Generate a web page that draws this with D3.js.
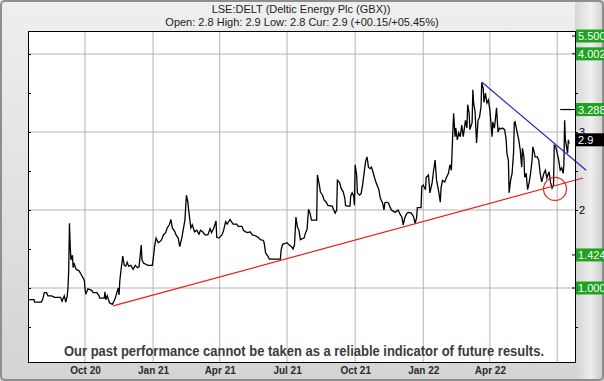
<!DOCTYPE html>
<html>
<head>
<meta charset="utf-8">
<script src="https://cdn.jsdelivr.net/npm/d3@7"></script>
<style>
  body { margin: 0; background: #fff; }
  svg { display: block; }
</style>
</head>
<body>
<div id="chart"></div>
<script>
const width = 604;
const height = 381;
const marginTop = 31;
const marginRight = 29;
const marginBottom = 19;
const marginLeft = 28;

const titleText = "LSE:DELT (Deltic Energy Plc (GBX))";
const subtitleText = "Open: 2.8 High: 2.9 Low: 2.8 Cur: 2.9 (+00.15/+05.45%)";
const disclaimerText = "Our past performance cannot be taken as a reliable indicator of future results.";

// daily price
const priceData = [
  ["2020-07-16",0.85],["2020-07-24",0.85],["2020-07-25",0.82],["2020-08-03",0.82],["2020-08-05",0.86],["2020-08-07",0.94],
  ["2020-08-10",0.94],["2020-08-12",0.90],["2020-08-17",0.90],["2020-08-21",0.88],["2020-08-29",0.88],["2020-08-31",0.83],
  ["2020-09-03",0.90],["2020-09-05",0.82],["2020-09-07",0.90],["2020-09-08",1.00],["2020-09-09",1.23],["2020-09-10",1.83],
  ["2020-09-11",1.55],["2020-09-12",1.36],["2020-09-14",1.42],["2020-09-15",1.26],["2020-09-16",1.32],["2020-09-19",1.24],
  ["2020-09-23",1.22],["2020-09-26",1.17],["2020-09-30",1.10],["2020-10-01",1.00],["2020-10-02",0.92],["2020-10-05",0.99],
  ["2020-10-10",0.97],["2020-10-12",0.94],["2020-10-17",0.94],["2020-10-20",0.90],["2020-10-21",0.87],["2020-10-27",0.87],
  ["2020-10-28",0.95],["2020-10-29",0.85],["2020-10-31",0.90],["2020-11-03",0.81],["2020-11-07",0.79],["2020-11-09",0.83],
  ["2020-11-11",0.87],["2020-11-13",0.94],["2020-11-15",1.00],["2020-11-16",0.91],["2020-11-17",1.09],["2020-11-19",1.26],
  ["2020-11-20",1.32],["2020-11-21",1.41],["2020-11-23",1.29],["2020-11-25",1.28],["2020-11-27",1.33],["2020-11-29",1.28],
  ["2020-12-02",1.29],["2020-12-05",1.24],["2020-12-08",1.29],["2020-12-11",1.26],["2020-12-13",1.27],["2020-12-16",1.55],
  ["2020-12-17",1.36],["2020-12-19",1.32],["2020-12-25",1.29],["2020-12-31",1.29],
  ["2021-01-01",1.36],["2021-01-03",1.53],["2021-01-05",1.64],["2021-01-08",1.58],["2021-01-12",1.61],["2021-01-15",1.68],
  ["2021-01-18",1.71],["2021-01-20",1.77],["2021-01-23",1.81],["2021-01-25",1.88],["2021-01-27",1.77],["2021-01-30",1.73],
  ["2021-02-01",1.68],["2021-02-04",1.64],["2021-02-06",1.53],["2021-02-09",1.65],["2021-02-10",1.71],["2021-02-13",1.87],
  ["2021-02-15",2.19],["2021-02-17",2.10],["2021-02-18",2.00],["2021-02-21",1.77],["2021-02-23",1.81],["2021-02-26",1.72],
  ["2021-03-01",1.74],["2021-03-04",1.69],["2021-03-06",1.74],["2021-03-09",1.72],["2021-03-12",1.68],["2021-03-16",1.68],
  ["2021-03-19",1.76],["2021-03-21",1.71],["2021-03-24",1.77],["2021-03-27",1.86],["2021-03-28",1.65],["2021-03-31",1.64],
  ["2021-04-04",1.68],["2021-04-06",1.73],["2021-04-09",1.85],["2021-04-11",1.82],["2021-04-15",1.88],["2021-04-19",1.82],
  ["2021-04-24",1.82],["2021-04-26",1.79],
  ["2021-05-01",1.79],["2021-05-03",1.74],["2021-05-06",1.72],["2021-05-09",1.71],["2021-05-12",1.72],["2021-05-15",1.68],
  ["2021-05-19",1.67],["2021-05-23",1.65],["2021-05-26",1.62],["2021-05-30",1.61],["2021-05-31",1.58],["2021-06-02",1.45],
  ["2021-06-05",1.41],["2021-06-07",1.37],["2021-06-22",1.37],["2021-06-23",1.49],["2021-06-25",1.56],["2021-07-01",1.58],
  ["2021-07-04",1.55],["2021-07-07",1.53],["2021-07-09",1.50],["2021-07-11",1.55],["2021-07-13",1.91],["2021-07-15",1.78],
  ["2021-07-17",1.74],["2021-07-19",1.62],["2021-07-21",1.63],["2021-07-24",1.64],["2021-07-26",1.71],["2021-07-28",1.75],
  ["2021-07-30",2.01],["2021-08-01",1.96],["2021-08-03",1.87],["2021-08-10",1.87],["2021-08-11",2.45],["2021-08-14",2.30],
  ["2021-08-15",2.23],["2021-08-18",2.19],["2021-08-20",2.13],["2021-08-23",2.10],["2021-08-25",2.06],["2021-08-31",2.05],
  ["2021-09-02",2.00],["2021-09-04",1.96],["2021-09-06",2.00],["2021-09-07",2.38],["2021-09-10",2.35],["2021-09-12",2.28],
  ["2021-09-15",2.23],["2021-09-17",2.15],
  ["2021-09-18",2.06],["2021-09-20",2.05],["2021-09-24",2.05],["2021-09-25",2.18],["2021-09-27",2.22],["2021-09-29",2.18],
  ["2021-09-30",2.06],["2021-10-01",2.58],["2021-10-03",2.45],["2021-10-04",2.22],["2021-10-07",2.19],["2021-10-09",2.21],
  ["2021-10-11",2.32],["2021-10-13",2.47],["2021-10-15",2.62],["2021-10-17",2.68],["2021-10-19",2.55],["2021-10-21",2.53],
  ["2021-10-23",2.55],["2021-10-25",2.49],["2021-10-27",2.42],["2021-10-29",2.36],["2021-11-02",2.26],["2021-11-04",2.15],
  ["2021-11-07",2.09],["2021-11-09",2.00],["2021-11-10",2.09],["2021-11-12",2.10],["2021-11-15",2.09],["2021-11-17",2.04],
  ["2021-11-19",2.00],["2021-11-24",1.97],["2021-11-28",2.00],["2021-12-01",1.94],["2021-12-03",1.91],["2021-12-05",1.81],
  ["2021-12-07",1.90],["2021-12-10",1.96],["2021-12-12",1.97],["2021-12-16",1.96],["2021-12-19",1.91],["2021-12-21",1.83],
  ["2021-12-23",1.90],["2021-12-24",2.03],["2021-12-29",2.03],["2021-12-30",2.30],["2022-01-01",2.32],["2022-01-04",2.26],
  ["2022-01-05",2.42],["2022-01-08",2.45],["2022-01-10",2.22],["2022-01-13",2.35],["2022-01-15",2.51],["2022-01-17",2.64],
  ["2022-01-19",2.38],["2022-01-22",2.23],
  ["2022-01-24",2.10],["2022-01-25",2.28],["2022-01-27",2.38],["2022-01-30",2.36],["2022-02-01",2.41],["2022-02-04",2.47],
  ["2022-02-06",2.58],["2022-02-08",2.51],["2022-02-09",2.77],["2022-02-11",3.24],["2022-02-13",2.94],["2022-02-14",3.05],
  ["2022-02-16",2.90],["2022-02-18",2.99],["2022-02-20",2.94],["2022-02-22",3.09],["2022-02-24",2.94],["2022-02-27",3.15],
  ["2022-03-01",3.05],["2022-03-02",3.35],["2022-03-04",3.24],["2022-03-05",3.03],["2022-03-08",3.12],["2022-03-09",3.54],
  ["2022-03-10",3.38],["2022-03-12",3.26],["2022-03-14",2.86],["2022-03-16",3.15],["2022-03-18",3.19],["2022-03-20",3.32],
  ["2022-03-21",3.63],["2022-03-23",3.56],["2022-03-24",3.38],["2022-03-26",3.50],["2022-03-28",3.37],["2022-03-30",3.41],
  ["2022-04-01",3.28],["2022-04-04",2.94],["2022-04-05",3.13],["2022-04-07",3.05],["2022-04-08",3.12],["2022-04-10",3.31],
  ["2022-04-12",3.00],["2022-04-14",3.05],["2022-04-16",3.04],["2022-04-18",3.05],["2022-04-21",3.03],["2022-04-23",2.90],
  ["2022-04-24",2.73],["2022-04-26",2.64],["2022-04-27",2.22],["2022-04-29",2.38],["2022-05-01",2.47],["2022-05-03",2.73],
  ["2022-05-04",3.12],["2022-05-05",3.13],["2022-05-08",2.99],["2022-05-10",2.90],["2022-05-12",2.77],["2022-05-14",2.55],
  ["2022-05-15",2.79],["2022-05-17",2.68],["2022-05-18",2.42],["2022-05-20",2.47],["2022-05-22",2.26],["2022-05-24",2.35],
  ["2022-05-26",2.47],["2022-05-28",2.64],["2022-05-29",2.81],["2022-05-31",2.74],["2022-06-01",2.68],["2022-06-04",2.68],
  ["2022-06-06",2.64],["2022-06-08",2.47],["2022-06-10",2.36],["2022-06-13",2.47],["2022-06-15",2.51],["2022-06-17",2.41],
  ["2022-06-20",2.49],["2022-06-22",2.35],["2022-06-24",2.28],["2022-06-26",2.32],["2022-06-27",2.83],["2022-06-29",2.81],
  ["2022-07-01",2.73],["2022-07-03",2.64],["2022-07-05",2.51],["2022-07-07",2.54],["2022-07-09",2.47],["2022-07-10",2.58],
  ["2022-07-11",3.15],["2022-07-12",2.90],["2022-07-15",2.73],["2022-07-16",2.90],["2022-07-17",2.85]
];

// trend lines and markers
const redTrend = [["2020-11-08", 0.77], ["2022-08-05", 2.41]];
const blueTrend = [["2022-03-21", 3.64], ["2022-08-09", 2.51]];
const circleMark = ["2022-06-28", 2.27];
const markerLine = [["2022-07-05", 3.288], ["2022-07-21", 3.288]];

// axis ticks
const xDomain = ["2020-07-16", "2022-07-25"];
const xGridDates = ["2020-10-01", "2021-01-01", "2021-04-01", "2021-07-01", "2021-10-01", "2022-01-01", "2022-04-01", "2022-07-01"];
const xLabelDates = ["2020-10-01", "2021-01-01", "2021-04-01", "2021-07-01", "2021-10-01", "2022-01-01", "2022-04-01"];
const yGridValues = [1, 2, 3, 4];
const yTickValues = [0.5, 1, 1.5, 2, 2.5, 3, 3.5, 4];
// 1 and 4 sit behind the green level labels, so only these show
const yLabelValues = [2, 3];

// price level labels on the right
const levelValues = [5.5, 4.002, 3.288, 1.424, 1.0];
const levelLabels = ["5.500", "4.002", "3.288", "1.424", "1.000"];
const currentPrice = 2.9;
const currentLabel = "2.9";

const parse = d3.utcParse("%Y-%m-%d");

const x = d3.scaleUtc(xDomain.map(parse), [marginLeft, width - marginRight]);
const y = d3.scaleLinear([1, 3], [288, 132]);

const plotTop = marginTop;
const plotBottom = height - marginBottom;
const plotRight = width - marginRight;

const svg = d3.select("#chart")
  .append("svg")
  .attr("width", width)
  .attr("height", height)
  .attr("viewBox", [0, 0, width, height])
  .style("font-family", "'Liberation Sans', Arial, sans-serif");

const defs = svg.append("defs");
const bgGrad = defs.append("linearGradient").attr("id", "bgGrad").attr("x1", 0).attr("y1", 0).attr("x2", 0).attr("y2", 1);
bgGrad.append("stop").attr("offset", "0%").attr("stop-color", "#efefef");
bgGrad.append("stop").attr("offset", "100%").attr("stop-color", "#d4d4d4");

const sideGrad = defs.append("linearGradient").attr("id", "sideGrad").attr("x1", 0).attr("y1", 0).attr("x2", 1).attr("y2", 0);
sideGrad.append("stop").attr("offset", "0%").attr("stop-color", "#d2d2d2");
sideGrad.append("stop").attr("offset", "55%").attr("stop-color", "#f2f2f2");
sideGrad.append("stop").attr("offset", "100%").attr("stop-color", "#c4c4c4");

// panel background
svg.append("rect")
  .attr("width", width).attr("height", height)
  .attr("fill", "url(#bgGrad)");

svg.append("rect")
  .attr("x", plotRight).attr("y", 0)
  .attr("width", marginRight).attr("height", height)
  .attr("fill", "url(#sideGrad)")
  .attr("opacity", 0.8);

svg.append("rect")
  .attr("x", 1).attr("y", 1)
  .attr("width", width - 2).attr("height", height - 2)
  .attr("rx", 4)
  .attr("fill", "none")
  .attr("stroke", "#8e8e8e")
  .attr("stroke-width", 2);

// plot area
svg.append("rect")
  .attr("x", marginLeft).attr("y", plotTop)
  .attr("width", plotRight - marginLeft).attr("height", plotBottom - plotTop)
  .attr("fill", "#fff");

// grid
svg.append("g")
  .selectAll("line")
  .data(xGridDates.map(parse))
  .join("line")
  .attr("x1", d => x(d)).attr("x2", d => x(d))
  .attr("y1", plotTop).attr("y2", plotBottom)
  .attr("stroke", "#b4b4b4");

svg.append("g")
  .selectAll("line")
  .data(yGridValues)
  .join("line")
  .attr("x1", marginLeft).attr("x2", plotRight)
  .attr("y1", d => y(d)).attr("y2", d => y(d))
  .attr("stroke", "#b4b4b4");

// ticks on left (inward) and right (outward)
svg.append("g")
  .attr("transform", `translate(${marginLeft},0)`)
  .call(d3.axisRight(y).tickValues(yTickValues).tickSize(3).tickFormat(""))
  .call(g => g.select(".domain").remove())
  .call(g => g.selectAll("line").attr("stroke", "#000"));

svg.append("g")
  .attr("transform", `translate(${plotRight},0)`)
  .call(d3.axisRight(y).tickValues(yTickValues).tickSize(3).tickFormat(d => yLabelValues.includes(d) ? d : ""))
  .call(g => g.select(".domain").remove())
  .call(g => g.selectAll("line").attr("stroke", "#000"))
  .call(g => g.selectAll("text")
    .attr("x", 4)
    .attr("fill", "#000")
    .style("font-size", "11px")
    .style("font-family", "'Liberation Sans', Arial, sans-serif"));

// x labels
svg.append("g")
  .attr("transform", `translate(0,${plotBottom})`)
  .call(d3.axisBottom(x).tickValues(xLabelDates.map(parse)).tickSize(0).tickFormat(d3.utcFormat("%b %y")))
  .call(g => g.select(".domain").remove())
  .call(g => g.selectAll("text")
    .attr("dy", "0.71em")
    .attr("y", 5)
    .attr("fill", "#2a2a2a")
    .style("font-size", "10px")
    .style("font-weight", "bold")
    .style("font-family", "'Liberation Sans', Arial, sans-serif"));

// price line
const line = d3.line()
  .x(d => x(parse(d[0])))
  .y(d => y(d[1]));

svg.append("path")
  .datum(priceData)
  .attr("fill", "none")
  .attr("stroke", "#000")
  .attr("stroke-width", 1.3)
  .attr("stroke-linejoin", "miter")
  .attr("d", line);

svg.append("path")
  .datum(markerLine)
  .attr("fill", "none")
  .attr("stroke", "#000")
  .attr("stroke-width", 1.2)
  .attr("d", line);

// trend lines
svg.append("path")
  .datum(redTrend)
  .attr("fill", "none")
  .attr("stroke", "#e8201c")
  .attr("stroke-width", 1.2)
  .attr("d", line);

svg.append("path")
  .datum(blueTrend)
  .attr("fill", "none")
  .attr("stroke", "#2424c8")
  .attr("stroke-width", 1.2)
  .attr("d", line);

svg.append("circle")
  .attr("cx", x(parse(circleMark[0])))
  .attr("cy", y(circleMark[1]))
  .attr("r", 11.5)
  .attr("fill", "none")
  .attr("stroke", "#e8201c")
  .attr("stroke-width", 1.2);

// frame
svg.append("rect")
  .attr("x", marginLeft + 0.5).attr("y", plotTop + 0.5)
  .attr("width", plotRight - marginLeft).attr("height", plotBottom - plotTop)
  .attr("fill", "none")
  .attr("stroke", "#000");

// level labels (clamped to the plot)
const levels = levelValues.map((v, i) => ({
  value: v,
  label: levelLabels[i],
  yy: Math.max(plotTop + 5, y(v))
}));

const levelG = svg.append("g")
  .selectAll("g")
  .data(levels)
  .join("g")
  .attr("transform", d => `translate(${plotRight + 1},${d.yy})`);

levelG.append("rect")
  .attr("x", 0).attr("y", -6.5)
  .attr("width", 30).attr("height", 13)
  .attr("fill", "#1fa21f");

levelG.append("text")
  .attr("x", 2).attr("y", 4)
  .attr("fill", "#fff")
  .style("font-size", "11px")
  .text(d => d.label);

levelG.append("line")
  .attr("x1", -4).attr("x2", 0)
  .attr("stroke", "#000");

const cur = svg.append("g")
  .attr("transform", `translate(${plotRight + 1},${y(currentPrice)})`);
cur.append("rect")
  .attr("x", 0).attr("y", -6.5)
  .attr("width", 30).attr("height", 13)
  .attr("fill", "#000");
cur.append("text")
  .attr("x", 2).attr("y", 4)
  .attr("fill", "#fff")
  .style("font-size", "11px")
  .text(currentLabel);

// titles
svg.append("text")
  .attr("x", 301).attr("y", 12.5)
  .attr("text-anchor", "middle")
  .attr("fill", "#222")
  .style("font-size", "11px")
  .text(titleText);

svg.append("text")
  .attr("x", 302).attr("y", 26)
  .attr("text-anchor", "middle")
  .attr("fill", "#222")
  .style("font-size", "11px")
  .text(subtitleText);

svg.append("text")
  .attr("x", 64).attr("y", 355.5)
  .attr("fill", "#3c3c3c")
  .attr("textLength", 480)
  .attr("lengthAdjust", "spacingAndGlyphs")
  .style("font-size", "14px")
  .style("font-weight", "bold")
  .style("font-family", "'Liberation Sans Narrow', 'Arial Narrow', 'Liberation Sans', Arial, sans-serif")
  .text(disclaimerText);
</script>
</body>
</html>
